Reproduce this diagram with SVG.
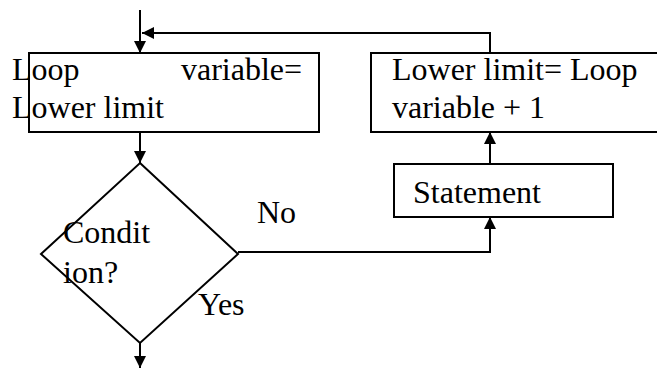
<svg xmlns="http://www.w3.org/2000/svg" width="657" height="377" viewBox="0 0 657 377">
  <defs>
    <style>
      .shape { fill: #ffffff; stroke: #000000; stroke-width: 2; }
      .wire { fill: none; stroke: #000000; stroke-width: 2; }
      .caption { font-family: 'Liberation Serif', serif; font-size: 32px; fill: #000000; }
    </style>
    <marker id="arrow" markerUnits="userSpaceOnUse" markerWidth="12" markerHeight="12" refX="12" refY="6" orient="auto">
      <path d="M0,0 L12,6 L0,12 z" fill="#000000"/>
    </marker>
  </defs>

  <!-- connectors -->
  <g id="connectors">
    <line class="wire" x1="140" y1="10" x2="140" y2="53" marker-end="url(#arrow)"/>
    <polyline class="wire" points="490,53 490,33 142,33" marker-end="url(#arrow)"/>
    <line class="wire" x1="140" y1="132" x2="140" y2="163" marker-end="url(#arrow)"/>
    <line class="wire" x1="140" y1="335" x2="140" y2="368" marker-end="url(#arrow)"/>
    <polyline class="wire" points="238,252 490,252 490,217" marker-end="url(#arrow)"/>
    <line class="wire" x1="490" y1="164" x2="490" y2="132" marker-end="url(#arrow)"/>
  </g>

  <!-- initialise loop variable -->
  <g id="init">
    <rect class="shape" x="29" y="53" width="290" height="79"/>
    <text class="caption" x="12" y="80">Loop</text>
    <text class="caption" x="181" y="80">variable=</text>
    <text class="caption" x="12" y="118">Lower limit</text>
  </g>

  <!-- update lower limit (runs past the right edge) -->
  <g id="update">
    <rect class="shape" x="371" y="53" width="300" height="79"/>
    <text class="caption" x="392" y="80">Lower limit= Loop</text>
    <text class="caption" x="392" y="118">variable + 1</text>
  </g>

  <!-- loop body -->
  <g id="statement">
    <rect class="shape" x="394" y="164" width="219" height="53"/>
    <text class="caption" x="413" y="203">Statement</text>
  </g>

  <!-- decision -->
  <g id="condition">
    <polygon class="shape" points="140,163 238,254 140,343 41,254"/>
    <text class="caption" x="63" y="243">Condit</text>
    <text class="caption" x="63" y="283">ion?</text>
  </g>

  <!-- branch labels -->
  <g id="branch-labels">
    <text class="caption" x="257" y="223">No</text>
    <text class="caption" x="198" y="315">Yes</text>
  </g>
</svg>
